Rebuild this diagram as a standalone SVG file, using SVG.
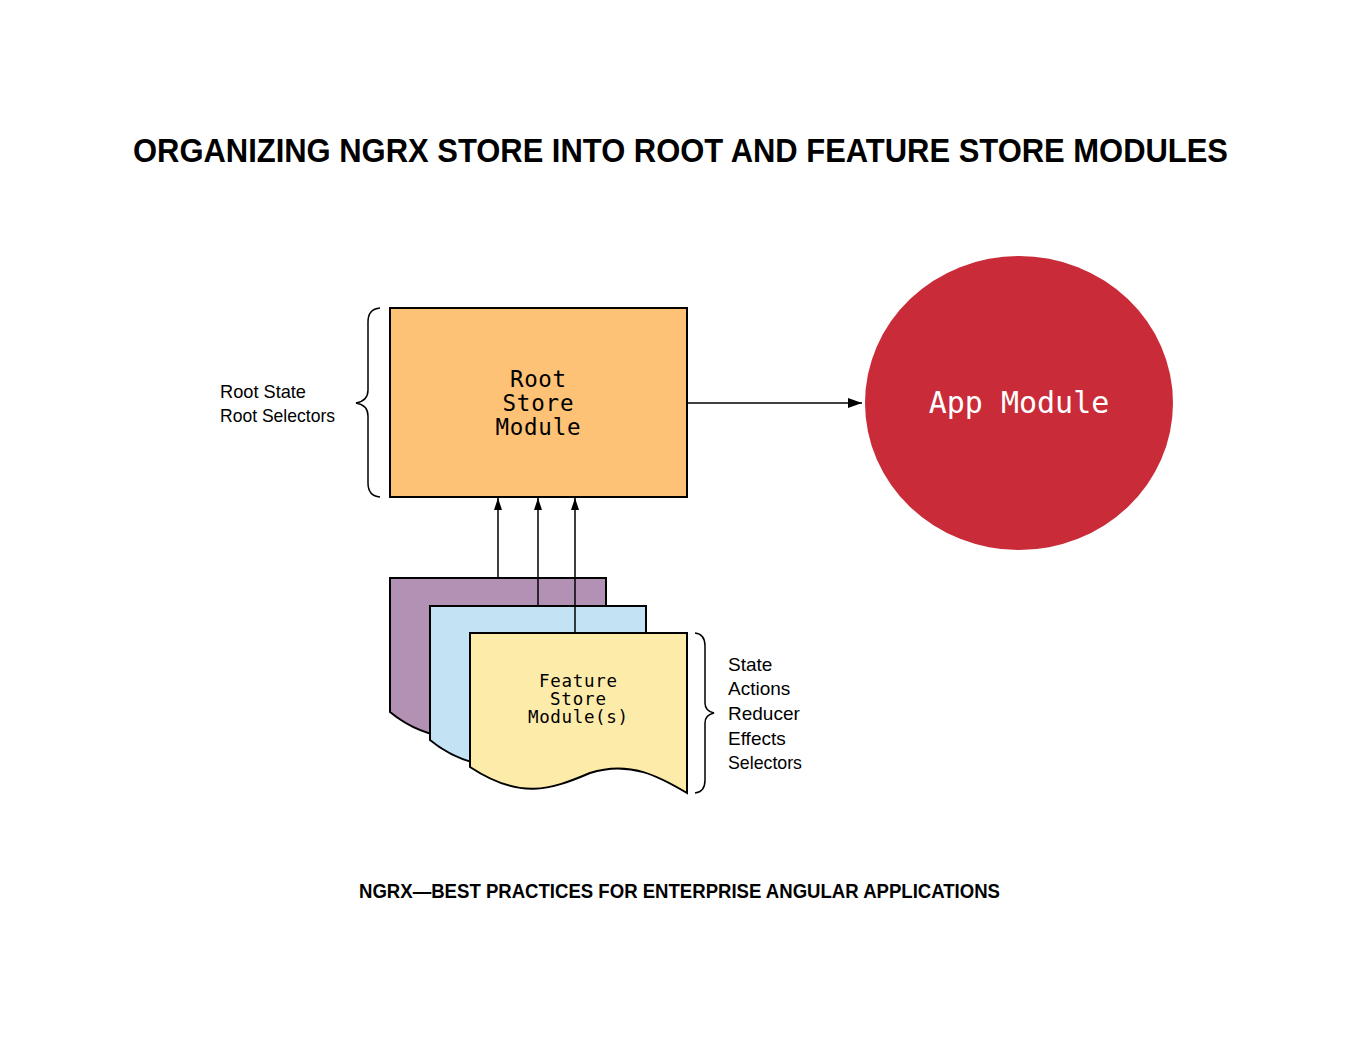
<svg xmlns="http://www.w3.org/2000/svg" width="1358" height="1049" viewBox="0 0 1358 1049">
<style>
.title{font-family:"Liberation Sans",Arial,sans-serif;font-weight:bold;fill:#000}
.mono{font-family:"DejaVu Sans Mono","Liberation Mono",monospace;text-anchor:middle}
.hand{font-family:"Liberation Sans",Arial,sans-serif;font-size:19px;fill:#000}
.shape{stroke:#000;stroke-width:2}
.brace{fill:none;stroke:#000;stroke-width:1.5}
.conn{fill:none;stroke:#000;stroke-width:1.5}
</style>
<defs>
<marker id="arr" viewBox="0 0 12 8" refX="12" refY="4" markerWidth="12" markerHeight="8" markerUnits="userSpaceOnUse" orient="auto">
<path d="M0,0 L12,4 L0,8 Z" fill="#000"/>
</marker>
<marker id="arrBig" viewBox="0 0 14 10" refX="14" refY="5" markerWidth="14" markerHeight="10" markerUnits="userSpaceOnUse" orient="auto">
<path d="M0,0 L14,5 L0,10 Z" fill="#000"/>
</marker>
</defs>
<rect width="1358" height="1049" fill="#fff"/>
<text class="title" x="133" y="162" font-size="34" textLength="1095" lengthAdjust="spacingAndGlyphs">ORGANIZING NGRX STORE INTO ROOT AND FEATURE STORE MODULES</text>

<g id="root-store">
<rect class="shape" x="390" y="308" width="297" height="189" fill="#FDC275"/>
<text class="mono" font-size="22.5" x="538" y="387" textLength="56">Root</text>
<text class="mono" font-size="22.5" x="538" y="411" textLength="71">Store</text>
<text class="mono" font-size="22.5" x="538" y="435" textLength="85">Module</text>
</g>

<g id="root-brace">
<path class="brace" d="M380,308 Q368,309 368,322 L368,390 Q368,401 356,403 Q368,405 368,416 L368,483 Q368,496 380,497"/>
<text class="hand" x="220" y="398" textLength="86" lengthAdjust="spacingAndGlyphs">Root State</text>
<text class="hand" x="220" y="422" textLength="115" lengthAdjust="spacingAndGlyphs">Root Selectors</text>
</g>

<g id="app-module">
<ellipse cx="1019" cy="403" rx="154" ry="147" fill="#C92B38"/>
<text class="mono" font-size="30" x="1019" y="413" fill="#fff">App Module</text>
</g>

<g id="feature-stores">
<path class="shape" fill="#B291B5" d="M390,578 H606 V738 C580,722 550,715 520,728 C485,745 430,745 390,712 Z"/>
<path class="shape" fill="#C3E3F4" d="M430,606 H646 V766 C620,750 590,743 560,756 C525,773 470,773 430,740 Z"/>
<path class="shape" fill="#FDEBAA" d="M470,633 H687 V793 C660,777 630,760 590,773 C550,790 520,800 470,767 Z"/>
<text class="mono" font-size="17.5" x="578" y="687" textLength="78">Feature</text>
<text class="mono" font-size="17.5" x="578" y="705" textLength="56">Store</text>
<text class="mono" font-size="17.5" x="578" y="723" textLength="100">Module(s)</text>
</g>

<g id="feature-brace">
<path class="brace" d="M695,633 Q705,634 705,646 L705,703 Q705,711 714,713 Q705,715 705,723 L705,780 Q705,792 695,793"/>
<text class="hand" x="728" y="671">State</text>
<text class="hand" x="728" y="695">Actions</text>
<text class="hand" x="728" y="720">Reducer</text>
<text class="hand" x="728" y="745">Effects</text>
<text class="hand" x="728" y="769" textLength="74" lengthAdjust="spacingAndGlyphs">Selectors</text>
</g>

<g id="connectors">
<line class="conn" x1="687" y1="403" x2="862" y2="403" marker-end="url(#arrBig)"/>
<line class="conn" x1="498" y1="578" x2="498" y2="498" marker-end="url(#arr)"/>
<line class="conn" x1="538" y1="606" x2="538" y2="498" marker-end="url(#arr)"/>
<line class="conn" x1="575" y1="633" x2="575" y2="498" marker-end="url(#arr)"/>
</g>

<text class="title" x="359" y="898" font-size="20" textLength="641" lengthAdjust="spacingAndGlyphs">NGRX—BEST PRACTICES FOR ENTERPRISE ANGULAR APPLICATIONS</text>
</svg>
